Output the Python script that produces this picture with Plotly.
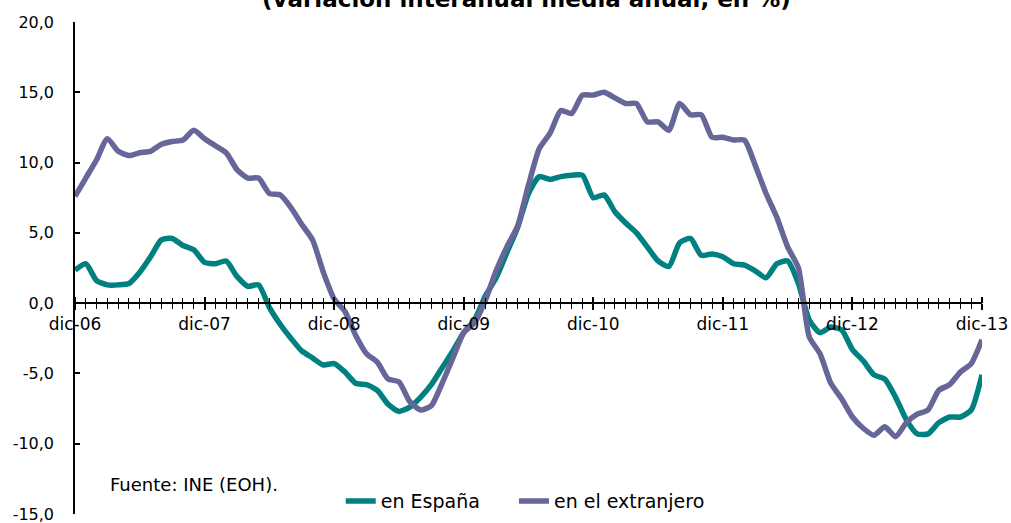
import plotly.graph_objects as go

months = list(range(85))
year_ticks = [0, 12, 24, 36, 48, 60, 72, 84]
year_labels = ["dic-06", "dic-07", "dic-08", "dic-09", "dic-10", "dic-11", "dic-12", "dic-13"]
y_ticks = [-15, -10, -5, 0, 5, 10, 15, 20]
y_labels = ["-15,0", "-10,0", "-5,0", "0,0", "5,0", "10,0", "15,0", "20,0"]

espana = [2.35, 2.8, 1.6, 1.3, 1.3, 1.4, 2.2, 3.3, 4.5, 4.6, 4.1, 3.8, 2.9, 2.8, 3.0, 1.9,
          1.2, 1.3, -0.3, -1.5, -2.5, -3.4, -3.9, -4.4, -4.3, -4.9, -5.7, -5.8, -6.2, -7.2,
          -7.7, -7.4, -6.7, -5.8, -4.6, -3.4, -2.1, -1.2, 0.5, 1.8, 3.6, 5.4, 7.8, 9.0, 8.8,
          9.0, 9.1, 9.1, 7.5, 7.7, 6.5, 5.7, 5.0, 4.0, 3.0, 2.6, 4.3, 4.6, 3.4, 3.5, 3.3, 2.8,
          2.7, 2.3, 1.8, 2.8, 3.0, 1.4, -1.2, -2.1, -1.7, -1.9, -3.3, -4.1, -5.1, -5.4, -6.7,
          -8.3, -9.3, -9.3, -8.5, -8.1, -8.1, -7.6, -5.1]

extranjero = [7.6, 8.9, 10.2, 11.7, 10.8, 10.5, 10.7, 10.8, 11.3, 11.5, 11.6, 12.3, 11.7,
              11.2, 10.7, 9.5, 8.9, 8.9, 7.8, 7.7, 6.8, 5.6, 4.5, 2.2, 0.3, -0.6, -2.3, -3.6,
              -4.2, -5.4, -5.6, -7.0, -7.6, -7.3, -5.7, -3.9, -2.1, -1.4, 0.2, 2.3, 4.0, 5.5,
              8.4, 11.0, 12.1, 13.7, 13.5, 14.8, 14.8, 15.0, 14.6, 14.2, 14.2, 12.9, 12.9,
              12.3, 14.2, 13.4, 13.4, 11.8, 11.8, 11.6, 11.6, 9.8, 7.8, 6.1, 4.0, 2.5, -2.4,
              -3.6, -5.7, -6.8, -8.1, -8.9, -9.4, -8.8, -9.5, -8.5, -7.9, -7.6, -6.2, -5.8,
              -4.9, -4.3, -2.6]

TEAL = "#008080"
PURPLE = "#666699"
FONT = "DejaVu Sans"

fig = go.Figure()
fig.add_trace(go.Scatter(x=months, y=espana, mode="lines", name="en España", legend="legend",
                         line=dict(color=TEAL, width=5.5, shape="spline", smoothing=0.6)))
fig.add_trace(go.Scatter(x=months, y=extranjero, mode="lines", name="en el extranjero",
                         legend="legend2",
                         line=dict(color=PURPLE, width=5.5, shape="spline", smoothing=0.6)))
# empty helper trace to carry the upward-pointing tick marks of the category axis
fig.add_trace(go.Scatter(x=[], y=[], xaxis="x2", yaxis="y", showlegend=False, hoverinfo="skip"))

zero_pos = 15 / 35
legend_style = dict(orientation="h", xanchor="left", y=0.026, yanchor="middle",
                    font=dict(size=19, family=FONT), bgcolor="rgba(0,0,0,0)", itemwidth=30)

fig.update_layout(
    width=1011, height=523,
    margin=dict(l=75, r=29, t=22, b=9, autoexpand=False),
    paper_bgcolor="white", plot_bgcolor="white",
    font=dict(family=FONT, color="black"),
    showlegend=True,
    legend=dict(x=0.293, **legend_style),
    legend2=dict(x=0.484, **legend_style),
    xaxis=dict(range=[0, 84], anchor="free", position=zero_pos, showline=True,
               linecolor="black", linewidth=1.5, showgrid=False, zeroline=False,
               automargin=False, ticklabeloverflow="allow",
               tickmode="array", tickvals=year_ticks, ticktext=year_labels,
               ticks="outside", ticklen=6, tickwidth=2, tickcolor="black",
               tickfont=dict(size=17, family=FONT),
               minor=dict(dtick=1, ticks="outside", ticklen=5, tickwidth=1.3,
                          tickcolor="black", showgrid=False)),
    xaxis2=dict(range=[0, 84], overlaying="x", anchor="free", position=zero_pos,
                side="top", showline=False, showgrid=False, zeroline=False,
                automargin=False,
                showticklabels=False, tickmode="array", tickvals=year_ticks,
                ticks="outside", ticklen=6, tickwidth=2, tickcolor="black",
                minor=dict(dtick=1, ticks="outside", ticklen=5, tickwidth=1.3,
                           tickcolor="black", showgrid=False)),
    yaxis=dict(range=[-15, 20], showline=True, linecolor="black", linewidth=1.5,
               showgrid=False, zeroline=False, automargin=False,
               ticklabeloverflow="allow",
               tickmode="array", tickvals=y_ticks,
               ticktext=y_labels, ticks="inside", ticklen=5, tickwidth=1.5,
               tickcolor="black", tickfont=dict(size=16, family=FONT),
               ticklabelstandoff=16),
)

fig.add_annotation(text="<b>(variación interanual media anual, en %)</b>",
                   xref="paper", yref="paper", x=0.498, y=1, xanchor="center",
                   yanchor="bottom", yshift=8, showarrow=False,
                   font=dict(size=23, family=FONT, color="black"))
fig.add_annotation(text="Fuente: INE (EOH).", xref="paper", yref="y", x=0.036, y=-12.88,
                   xanchor="left", yanchor="middle", showarrow=False,
                   font=dict(size=18, family=FONT, color="black"))

fig.write_html("out.html", config={"displayModeBar": False},
               post_script="document.body.style.margin='0';")
